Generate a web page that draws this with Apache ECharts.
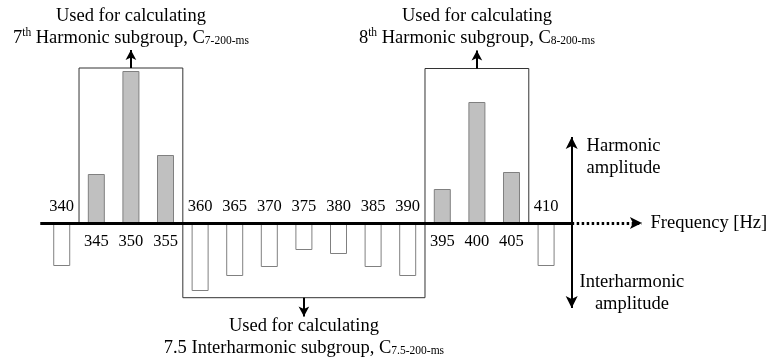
<!DOCTYPE html>
<html>
<head>
<meta charset="utf-8">
<script src="https://cdn.jsdelivr.net/npm/echarts@6/dist/echarts.min.js"></script>
<style>
html,body{margin:0;padding:0;background:#fff;}
#chart{width:770px;height:362px;}
</style>
</head>
<body>
<div id="chart"></div>
<script>
// Harmonic components (above the axis)
var harmonicFreq = [345, 350, 355, 395, 400, 405];
var harmonicAmp = [4.9, 15.2, 6.8, 3.4, 12.1, 5.1];
// Interharmonic components (below the axis)
var interFreq = [340, 360, 365, 370, 375, 380, 385, 390, 410];
var interAmp = [-4.3, -6.8, -5.3, -4.4, -2.7, -3.1, -4.4, -5.3, -4.3];
// Grouping boxes [from, to] in Hz
var group7 = [342.5, 357.5];
var group8 = [392.5, 407.5];
var group75 = [357.5, 392.5];
var axisStart = 336.9, axisEnd = 413.7, arrowEnd = 423.85;

var FONT = '"Liberation Serif", "Times New Roman", serif';
var rich = {
  t: {fontFamily: FONT, fontSize: 18.5, color: '#000', lineHeight: 22},
  sup: {fontFamily: FONT, fontSize: 11.5, color: '#000', lineHeight: 22, verticalAlign: 'top', padding: [0, 0, 8, 0]},
  sub: {fontFamily: FONT, fontSize: 11.5, color: '#000', lineHeight: 22, padding: [6, 0, 0, 0]}
};

function pairs(f, a) { return f.map(function (v, i) { return [v, a[i]]; }); }
function mid(g) { return (g[0] + g[1]) / 2; }

var chart = echarts.init(document.getElementById('chart'), null, {renderer: 'canvas'});
var option = {
  animation: false,
  backgroundColor: '#fff',
  grid: {left: 0, right: 0, top: 0, bottom: 0},
  xAxis: {type: 'value', min: 331.08, max: 442.36, show: false},
  yAxis: {type: 'value', min: -13.9, max: 22.3, show: false},
  series: [
    {
      type: 'bar', name: 'harmonic', barWidth: 17, barGap: '-100%', z: 3,
      data: pairs(harmonicFreq, harmonicAmp),
      itemStyle: {color: '#c0c0c0', borderColor: '#808080', borderWidth: 1},
      label: {show: true, position: 'bottom', distance: 10, fontFamily: FONT, fontSize: 16.5, color: '#000',
        formatter: function (p) { return p.value[0]; }},
      markArea: {
        silent: true,
        itemStyle: {color: 'rgba(0,0,0,0)', borderColor: '#333', borderWidth: 1},
        label: {show: false},
        data: [
          [{coord: [group7[0], 15.5]}, {coord: [group7[1], 0]}],
          [{coord: [group8[0], 15.45]}, {coord: [group8[1], 0]}],
          [{coord: [group75[0], 0]}, {coord: [group75[1], -7.47]}]
        ]
      },
      markLine: {
        silent: true, symbol: ['none', 'arrow'], symbolSize: [8, 10],
        lineStyle: {color: '#000', width: 2, type: 'solid'},
        label: {show: false},
        data: [
          [{coord: [mid(group7), 15.5]}, {coord: [mid(group7), 17.3]}],
          [{coord: [mid(group8), 15.45]}, {coord: [mid(group8), 17.25]}],
          [{coord: [mid(group75), -7.47]}, {coord: [mid(group75), -9.35]}]
        ]
      }
    },
    {
      type: 'bar', name: 'interharmonic', barWidth: 17, barGap: '-100%', z: 3,
      data: pairs(interFreq, interAmp),
      itemStyle: {color: '#fff', borderColor: '#808080', borderWidth: 1},
      label: {show: true, position: 'top', distance: 8, fontFamily: FONT, fontSize: 16.5, color: '#000',
        formatter: function (p) { return p.value[0]; }},
      markLine: {
        silent: true, symbol: 'none', z: 5,
        label: {show: false},
        data: [
          [{coord: [axisStart, 0], lineStyle: {color: '#000', width: 3, type: 'solid'}},
           {coord: [axisEnd, 0]}],
          [{coord: [axisEnd, 0], symbol: 'none', lineStyle: {color: '#000', width: 3, type: [2.5, 2.5]}},
           {coord: [arrowEnd, 0], symbol: 'arrow', symbolSize: [9, 12]}],
          [{coord: [axisEnd, 8.6], symbol: 'arrow', symbolSize: [9, 12], lineStyle: {color: '#000', width: 2, type: 'solid'}},
           {coord: [axisEnd, -8.5], symbol: 'arrow', symbolSize: [9, 12]}]
        ]
      },
      markPoint: {
        silent: true, symbol: 'circle', symbolSize: 0,
        label: {show: true, position: 'inside', color: '#000', rich: rich},
        data: [
          {coord: [mid(group7), 19.6], label: {formatter: '{t|Used for calculating}\n{t|7}{sup|th}{t| Harmonic subgroup, C}{sub|7-200-ms}'}},
          {coord: [mid(group8), 19.6], label: {formatter: '{t|Used for calculating}\n{t|8}{sup|th}{t| Harmonic subgroup, C}{sub|8-200-ms}'}},
          {coord: [mid(group75), -11.4], label: {formatter: '{t|Used for calculating}\n{t|7.5 Interharmonic subgroup, C}{sub|7.5-200-ms}'}},
          {coord: [421.2, 6.6], label: {formatter: '{t|Harmonic}\n{t|amplitude}'}},
          {coord: [422.4, -7.0], label: {formatter: '{t|Interharmonic}\n{t|amplitude}'}},
          {coord: [425.1, 0], label: {position: 'right', distance: 0, formatter: '{t|Frequency [Hz]}'}}
        ]
      }
    }
  ]
};
chart.setOption(option);
</script>
</body>
</html>
